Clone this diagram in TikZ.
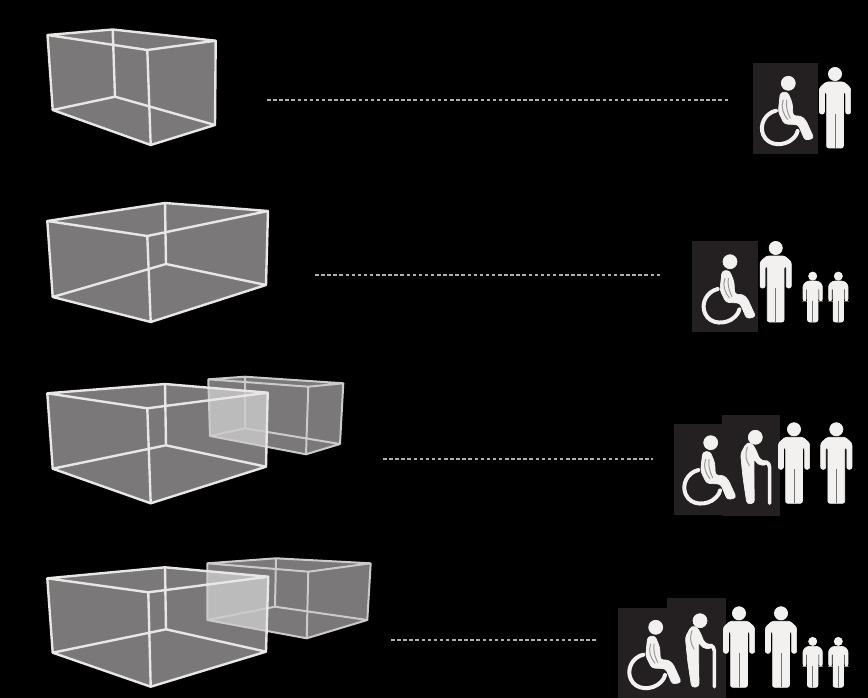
\documentclass[tikz,border=0pt]{standalone}
\definecolor{roomgrey}{HTML}{7A7878}
\definecolor{overlapgrey}{HTML}{BBBBBB}
\definecolor{edgecol}{HTML}{E9E7E5}
\definecolor{panelcol}{HTML}{241F20}
\definecolor{figcol}{HTML}{F3F1EF}
\definecolor{shadecol}{HTML}{9A9898}
\definecolor{dashcol}{HTML}{B0B0B0}
\tikzset{
  roomedge/.style={draw=edgecol,line width=2.4pt,line join=round,line cap=round},
  roomedgeback/.style={draw=edgecol!88!black,line width=2pt,line join=round,line cap=round},
  linkline/.style={draw=dashcol,line width=1.4pt,dash pattern=on 3.5pt off 2.6pt},
  panelbox/.style={fill=panelcol},
  figfill/.style={fill=figcol,draw=figcol,line width=.7pt},
  figline/.style={draw=figcol,line cap=round,line join=round},
  figshade/.style={draw=shadecol,line cap=round,line join=round}
}
% a b r f = top corners (left, back, right, front); e g h i = bottom corners
\newcommand\setroom[9]{%
  \coordinate (#1a) at #2; \coordinate (#1b) at #3; \coordinate (#1r) at #4; \coordinate (#1f) at #5;
  \coordinate (#1e) at #6; \coordinate (#1g) at #7; \coordinate (#1h) at #8; \coordinate (#1i) at #9;}
\newcommand\roomhull[1]{(#1a) -- (#1b) -- (#1r) -- (#1h) -- (#1i) -- (#1e) -- cycle}
\newcommand\roomlines[2]{%
  \draw[#2] (#1a) -- (#1b) -- (#1r) -- (#1f) -- cycle
    (#1a) -- (#1e) (#1b) -- (#1g) (#1r) -- (#1h) (#1f) -- (#1i)
    (#1e) -- (#1g) -- (#1h) -- (#1i) -- cycle;}
\newcommand\personfig[3]{%
  \begin{scope}[shift={(#1,#2)},scale=#3]
    \fill[figfill] (0,-74) circle (6.6);
    \fill[figfill,rounded corners=2.2pt] (-9,-66) -- (9,-66) -- (15.6,-60) -- (15.6,-34) -- (10.6,-34)
      -- (10.6,-56) -- (8.4,-56) -- (8.4,0) -- (-8.4,0) -- (-8.4,-56) -- (-10.6,-56) -- (-10.6,-34)
      -- (-15.6,-34) -- (-15.6,-60) -- cycle;
    \draw[black!55,line width=.6pt] (0,-34) -- (0,0);
  \end{scope}}
\newcommand\wheelfig[2]{%
  \begin{scope}[shift={(#1,#2)},scale=1/3]
    \fill[figfill] (0,0) circle (21);
    \draw[figline,line width=4pt] (-37,82) .. controls (-70,90) and (-88,125) .. (-75,155)
      .. controls (-60,190) and (-10,190) .. (15,165) .. controls (24,155) and (27,150) .. (28,143);
    \fill[figfill,rounded corners=3pt] (-24,28) -- (-2,26) -- (12,60) -- (14,98) -- (38,98) -- (52,110)
      -- (77,165) -- (50,171) -- (30,124) -- (-12,122) -- (-30,85) -- cycle;
    \draw[figshade,line width=1pt] (-15,50) .. controls (-24,70) and (-14,95) .. (-2,108);
    \draw[figshade,line width=1pt] (-5,50) .. controls (-8,70) and (-2,90) .. (6,105);
  \end{scope}}
\newcommand\elderfig[2]{%
  \begin{scope}[shift={(#1,#2)},scale=1/3]
    \fill[figfill] (0,0) circle (21);
    \fill[figfill,rounded corners=3pt] (-27,18) -- (-10,18) -- (2,38) -- (13,66) -- (36,74) -- (36,84)
      -- (8,82) -- (-4,63) -- (-4,110) -- (-3,198) -- (-25,200) -- (-37,120) -- (-44,50) -- cycle;
    \draw[figshade,line width=1pt] (-24,30) .. controls (-32,50) and (-28,70) .. (-18,85);
    \draw[figline,line width=3.6pt] (20,80) .. controls (26,70) and (42,72) .. (43,90) -- (43,198);
  \end{scope}}
\begin{document}
\begin{tikzpicture}[x=1pt,y=-1pt]
\useasboundingbox (0,0) rectangle (868,698);
\fill[black] (0,0) rectangle (868,698);

% room 1
\setroom{A}{(47.5,35)}{(112.7,29.5)}{(215.7,40.7)}{(147.3,50)}{(52.7,110)}{(115,96.7)}{(215,125)}{(150.7,145)}
\fill[roomgrey] \roomhull{A};
\roomlines{A}{roomedge}

% room 2
\setroom{B}{(47.3,221)}{(165,203)}{(268,211)}{(147.3,236)}{(52.7,297)}{(166,264)}{(266,285)}{(150.7,322)}
\fill[roomgrey] \roomhull{B};
\roomlines{B}{roomedge}

% room 3 with annex
\setroom{C}{(47.3,393.3)}{(165,384)}{(267.7,392.7)}{(147.3,408.3)}{(52.7,468.7)}{(166,445.3)}{(266,466.7)}{(150.7,503.3)}
\setroom{D}{(208.3,379.3)}{(245,376.7)}{(343.3,383.3)}{(308.3,386.7)}{(210,436)}{(245,428.3)}{(340,444)}{(306,454.3)}
\fill[roomgrey] \roomhull{D};
\fill[roomgrey] \roomhull{C};
\begin{scope}
  \clip \roomhull{C};
  \fill[overlapgrey] \roomhull{D};
\end{scope}
\roomlines{D}{roomedgeback}
\roomlines{C}{roomedge}

% room 4 with annex
\setroom{E}{(47.3,578.3)}{(165,567.3)}{(268.3,576.7)}{(148.3,592.3)}{(52.7,652.7)}{(166,629.3)}{(266,651.7)}{(150.7,686.7)}
\setroom{F}{(207.3,563.3)}{(276,558.3)}{(370.7,563.3)}{(308.3,571.7)}{(207.3,620)}{(275,606.7)}{(367.3,620)}{(306.7,638.3)}
\fill[roomgrey] \roomhull{F};
\fill[roomgrey] \roomhull{E};
\begin{scope}
  \clip \roomhull{E};
  \fill[overlapgrey] \roomhull{F};
\end{scope}
\roomlines{F}{roomedgeback}
\roomlines{E}{roomedge}

% links
\coordinate (l1a) at (267,100); \coordinate (l1b) at (728,100);
\coordinate (l2a) at (315,275); \coordinate (l2b) at (662,275);
\coordinate (l3a) at (383,459); \coordinate (l3b) at (653,459);
\coordinate (l4a) at (391,640); \coordinate (l4b) at (597,640);
\draw[linkline] (l1a) -- (l1b);
\draw[linkline] (l2a) -- (l2b);
\draw[linkline] (l3a) -- (l3b);
\draw[linkline] (l4a) -- (l4b);

% row 1
\fill[panelbox] (752.7,63) rectangle (817.7,154);
\wheelfig{788.3}{83.3}
\personfig{835}{148}{1}

% row 2
\fill[panelbox] (692.3,241) rectangle (757.7,331.7);
\wheelfig{730}{261.7}
\personfig{775.7}{322}{1}
\personfig{812.7}{322}{.62}
\personfig{838.3}{322}{.62}

% row 3
\fill[panelbox] (674,424) rectangle (724,515);
\fill[panelbox] (722,415) rectangle (779.7,516);
\wheelfig{710.7}{442.7}
\elderfig{755.3}{437.3}
\personfig{794}{503.3}{1}
\personfig{836.3}{503.3}{1}

% row 4
\fill[panelbox] (618.3,608.3) rectangle (670,698);
\fill[panelbox] (667.3,598.3) rectangle (726,698);
\wheelfig{655.7}{627.3}
\elderfig{700}{620.7}
\personfig{739}{687.3}{1}
\personfig{781}{687.3}{1}
\personfig{812.7}{687.3}{.62}
\personfig{838.3}{687.3}{.62}
\end{tikzpicture}
\end{document}
